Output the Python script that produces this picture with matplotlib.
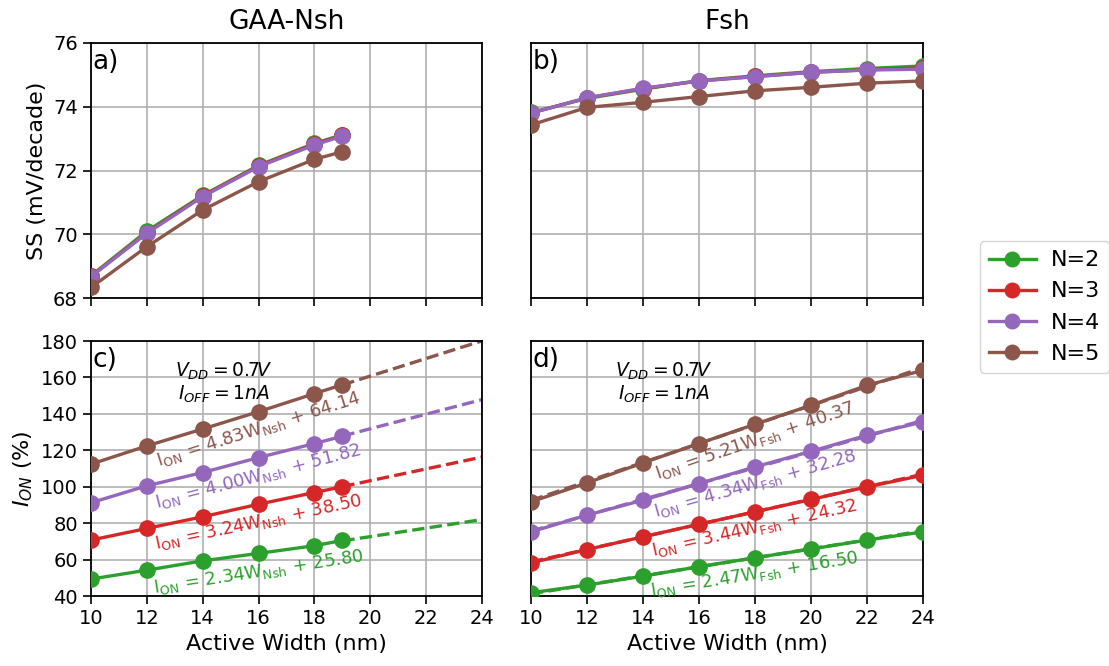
import numpy as np
import matplotlib
matplotlib.use("Agg")
import matplotlib.pyplot as plt

# =========================
# DATA
# =========================
w_nsh = [10, 12, 14, 16, 18, 19]
w_fsh = [10, 12, 14, 16, 18, 20, 22, 24]
labels = ["N=2", "N=3", "N=4", "N=5"]
colors = ["#2ca02c", "#d62728", "#9467bd", "#8c564b"]

ss_nsh = [
    [68.70, 70.10, 71.22, 72.16, 72.85, 73.12],
    [68.68, 70.05, 71.20, 72.14, 72.83, 73.10],
    [68.67, 70.03, 71.18, 72.12, 72.80, 73.08],
    [68.33, 69.61, 70.76, 71.65, 72.35, 72.59],
]
ss_fsh = [
    [73.82, 74.26, 74.55, 74.82, 74.97, 75.10, 75.20, 75.28],
    [73.80, 74.28, 74.57, 74.81, 74.95, 75.08, 75.16, 75.22],
    [73.80, 74.28, 74.58, 74.81, 74.94, 75.08, 75.15, 75.18],
    [73.43, 73.98, 74.14, 74.32, 74.50, 74.61, 74.74, 74.81],
]
ion_nsh = [
    [49.3, 54.2, 59.3, 63.4, 67.6, 70.5],
    [70.7, 77.1, 83.5, 90.4, 96.8, 100.0],
    [91.2, 100.5, 107.8, 116.0, 123.7, 127.7],
    [112.4, 122.4, 131.7, 141.2, 151.1, 156.0],
]
ion_fsh = [
    [41.8, 46.0, 50.9, 56.1, 61.0, 65.8, 70.7, 75.2],
    [58.2, 65.5, 72.5, 79.4, 86.2, 93.0, 99.9, 106.3],
    [75.2, 84.4, 92.6, 101.7, 110.9, 119.4, 128.3, 135.6],
    [91.7, 102.1, 113.1, 123.7, 134.3, 144.7, 155.7, 163.9],
]
# fit: I_ON = a*W + b
fit_nsh = [(2.34, 25.80), (3.24, 38.50), (4.00, 51.82), (4.83, 64.14)]
fit_fsh = [(2.47, 16.50), (3.44, 24.32), (4.34, 32.28), (5.21, 40.37)]

# =========================
# FIGURE
# =========================
fig = plt.figure(figsize=(11.09, 6.66), dpi=100)
W, H = 1109, 666

def box(x0, x1, y0, y1):
    return [x0 / W, 1 - y1 / H, (x1 - x0) / W, (y1 - y0) / H]

ax_a = fig.add_axes(box(91, 482, 43, 298))
ax_b = fig.add_axes(box(531, 923, 43, 298))
ax_c = fig.add_axes(box(91, 482, 341, 596))
ax_d = fig.add_axes(box(531, 923, 341, 596))

ms = 11
lw = 2.4

for i in range(4):
    ax_a.plot(w_nsh, ss_nsh[i], "-o", color=colors[i], lw=lw, ms=ms,
              label=labels[i], zorder=3)
    ax_b.plot(w_fsh, ss_fsh[i], "-o", color=colors[i], lw=lw, ms=ms,
              zorder=3)

for ax, w, ion, fits, sub, tx in [
    (ax_c, w_nsh, ion_nsh, fit_nsh, "Nsh", 16.0),
    (ax_d, w_fsh, ion_fsh, fit_fsh, "Fsh", 18.0),
]:
    # dashed fit out to 24 nm
    xf = np.array([w[-1] if sub == "Nsh" else w[0], 24])
    for i in range(4):
        a, b = fits[i]
        ax.plot(xf, a * xf + b, "--", color=colors[i], lw=lw, zorder=2)
        ax.plot(w, ion[i], "-o", color=colors[i], lw=lw, ms=ms, zorder=3)
        off = 10.0 if sub == "Nsh" else 9.0
        ax.text(tx, a * tx + b - off,
                r"I$_{\rm ON}$ = %.2fW$_{\rm %s}$ + %.2f" % (a, sub, b),
                color=colors[i], fontsize=13, ha="center", va="center",
                rotation=np.degrees(np.arctan(a)), rotation_mode="anchor",
                transform_rotates_text=True, zorder=4)
    ax.text(14.75, 157, "$V_{DD} = 0.7V$\n$I_{OFF} = 1nA$", fontsize=13.5,
            ha="center", va="center", linespacing=1.05)

# =========================
# AXES STYLE
# =========================
for ax in [ax_a, ax_b, ax_c, ax_d]:
    ax.set_xlim(10, 24)
    ax.set_xticks(range(10, 25, 2))
    ax.grid(True, color="#b0b0b0", lw=1.2)
    ax.set_axisbelow(True)
    ax.tick_params(labelsize=14, length=6, width=1.2)
    for s in ax.spines.values():
        s.set_linewidth(1.3)

for ax in [ax_a, ax_b]:
    ax.set_ylim(68, 76)
    ax.set_yticks([68, 70, 72, 74, 76])
    ax.tick_params(labelbottom=False)
for ax in [ax_c, ax_d]:
    ax.set_ylim(40, 180)
    ax.set_yticks(range(40, 181, 20))
    ax.set_xlabel("Active Width (nm)", fontsize=16)
for ax in [ax_b, ax_d]:
    ax.tick_params(left=False, labelleft=False)

ax_a.set_ylabel("SS (mV/decade)", fontsize=16)
ax_c.set_ylabel("$I_{ON}$ (%)", fontsize=16)
ax_a.set_title("GAA-Nsh", fontsize=19, pad=10)
ax_b.set_title("Fsh", fontsize=19, pad=10)

for ax, t in zip([ax_a, ax_b, ax_c, ax_d], ["a)", "b)", "c)", "d)"]):
    ax.text(0.003, 0.975, t, transform=ax.transAxes, fontsize=19,
            ha="left", va="top", zorder=5)

fig.legend(loc="center left", bbox_to_anchor=(980 / W, 1 - 307 / H),
           fontsize=16, borderaxespad=0, handletextpad=0.7,
           handlelength=2.1, markerscale=0.95)

plt.savefig("out.png", dpi=100)
